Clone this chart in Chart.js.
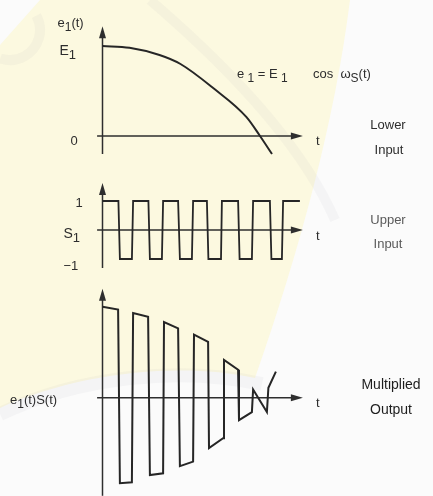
<!DOCTYPE html>
<html>
<head>
<meta charset="utf-8">
<script src="https://cdn.jsdelivr.net/npm/chart.js@4/dist/chart.umd.min.js"></script>
<style>
  html, body { margin: 0; padding: 0; background: #fff; }
  #wrap { position: relative; width: 433px; height: 496px; }
</style>
</head>
<body>
<div id="wrap"><canvas id="chart" width="433" height="496"></canvas></div>
<script>
// time is measured in periods of the switching signal S(t)
const cosT = [0, 0.9, 1.9, 2.6, 3.7, 4.8, 5.25, 5.65];
const cosV = [1.0, 0.98, 0.9, 0.8, 0.53, 0.21, 0, -0.2];

const squareT = [0, 0.53, 0.58, 0.98, 1.02, 1.53, 1.58, 1.98, 2.02, 2.52, 2.58, 2.98, 3.02,
  3.48, 3.53, 3.95, 3.98, 4.52, 4.57, 4.98, 5.02, 5.58, 5.63, 5.98, 6.02, 6.58];
const squareV = [1, 1, -1, -1, 1, 1, -1, -1, 1, 1, -1, -1, 1,
  1, -1, -1, 1, 1, -1, -1, 1, 1, -1, -1, 1, 1];

const prodT = [0, 0.52, 0.58, 0.98, 1.02, 1.52, 1.58, 2.02, 2.05, 2.52, 2.58, 3.02,
  3.05, 3.52, 3.55, 4.02, 4.05, 4.52, 4.55, 4.98, 5.02, 5.48, 5.53, 5.78];
const prodV = [1.01, 0.98, -0.95, -0.94, 0.94, 0.90, -0.86, -0.84, 0.84, 0.77, -0.76, -0.71,
  0.70, 0.62, -0.56, -0.45, 0.42, 0.31, -0.25, -0.16, 0.09, -0.16, 0.11, 0.29];

// axis extents (time axis start/end, vertical axis bottom/top per panel)
const timeAxis = [-0.18, 6.68];
const topAxis = [-0.2, 1.22];
const midAxis = [-1.31, 1.62];
const botAxis = [-1.09, 1.21];

const ink = "#262626";
const FONT = '"Liberation Sans", Arial, sans-serif';

function pts(xs, ys) {
  return xs.map((x, i) => ({ x, y: ys[i] }));
}

function arrow(ctx, x1, y1, x2, y2) {
  const a = Math.atan2(y2 - y1, x2 - x1);
  const c = Math.cos(a), s = Math.sin(a);
  ctx.beginPath();
  ctx.moveTo(x1, y1);
  ctx.lineTo(x2 - 8 * c, y2 - 8 * s);
  ctx.stroke();
  ctx.beginPath();
  ctx.moveTo(x2, y2);
  ctx.lineTo(x2 - 12 * c + 3.5 * s, y2 - 12 * s - 3.5 * c);
  ctx.lineTo(x2 - 12 * c - 3.5 * s, y2 - 12 * s + 3.5 * c);
  ctx.closePath();
  ctx.fill();
}

// text made of runs; a run flagged true is drawn as a subscript
function rich(ctx, x, y, parts, size) {
  let cx = x;
  parts.forEach(([txt, sub]) => {
    ctx.font = (sub ? size - 1 : size) + "px " + FONT;
    ctx.fillText(txt, cx, y + (sub ? 4 : 0));
    cx += ctx.measureText(txt).width;
  });
}

const backdrop = {
  id: "backdrop",
  beforeDraw(chart) {
    const ctx = chart.ctx;
    ctx.save();
    ctx.fillStyle = "#fbfbfb";
    ctx.fillRect(0, 0, chart.width, chart.height);
    // pale crest shape behind the plots
    ctx.fillStyle = "#fcf9e0";
    ctx.beginPath();
    ctx.moveTo(40, 0);
    ctx.lineTo(350, 0);
    ctx.bezierCurveTo(335, 120, 300, 250, 255, 378);
    ctx.bezierCurveTo(180, 362, 80, 372, 0, 408);
    ctx.lineTo(0, 45);
    ctx.closePath();
    ctx.fill();
    ctx.strokeStyle = "rgba(150,150,165,0.07)";
    ctx.lineWidth = 14;
    ctx.beginPath();
    ctx.moveTo(0, 414);
    ctx.bezierCurveTo(80, 376, 180, 366, 262, 384);
    ctx.stroke();
    ctx.lineWidth = 10;
    ctx.beginPath();
    ctx.moveTo(150, 0);
    ctx.bezierCurveTo(220, 60, 300, 140, 335, 220);
    ctx.stroke();
    ctx.beginPath();
    ctx.arc(10, 30, 30, -0.5, 1.9);
    ctx.stroke();
    ctx.restore();
  },
  beforeDatasetsDraw(chart) {
    const { ctx, scales } = chart;
    const x = scales.x;
    ctx.save();
    ctx.strokeStyle = "#2e2e2e";
    ctx.fillStyle = "#2e2e2e";
    ctx.lineWidth = 1.5;
    [["yTop", topAxis], ["yMid", midAxis], ["yBot", botAxis]].forEach(([id, ext]) => {
      const y = scales[id];
      const x0 = x.getPixelForValue(0);
      arrow(ctx, x0, y.getPixelForValue(ext[0]), x0, y.getPixelForValue(ext[1]));
      arrow(ctx, x.getPixelForValue(timeAxis[0]), y.getPixelForValue(0),
        x.getPixelForValue(timeAxis[1]), y.getPixelForValue(0));
    });
    ctx.restore();
  },
  afterDraw(chart) {
    const { ctx, scales } = chart;
    const x = scales.x, yT = scales.yTop, yM = scales.yMid, yB = scales.yBot;
    const ax = x.getPixelForValue(0);
    const tx = x.getPixelForValue(timeAxis[1]) + 13;
    ctx.save();
    ctx.fillStyle = "#2d2d2d";
    ctx.textBaseline = "alphabetic";
    ctx.textAlign = "left";

    // top panel
    rich(ctx, ax - 45, yT.getPixelForValue(topAxis[1]) + 1, [["e", false], ["1", true], ["(t)", false]], 13);
    rich(ctx, ax - 43, yT.getPixelForValue(1) + 9, [["E", false], ["1", true]], 14);
    ctx.font = "13px " + FONT;
    ctx.fillText("0", ax - 32, yT.getPixelForValue(0) + 9);
    ctx.fillText("t", tx, yT.getPixelForValue(0) + 9);
    rich(ctx, 237, 78, [["e", false], [" 1", true], [" = ", false], ["E", false], [" 1", true],
      ["       cos  ", false], ["\u03c9", false], ["S", true], ["(t)", false]], 13);

    // middle panel
    ctx.font = "13px " + FONT;
    ctx.fillText("1", ax - 27, yM.getPixelForValue(1) + 6);
    rich(ctx, ax - 39, yM.getPixelForValue(0) + 8, [["S", false], ["1", true]], 14);
    ctx.fillText("\u22121", ax - 39, yM.getPixelForValue(-1) + 11);
    ctx.fillText("t", tx, yM.getPixelForValue(0) + 10);

    // bottom panel
    rich(ctx, 10, yB.getPixelForValue(0) + 6, [["e", false], ["1", true], ["(t)S(t)", false]], 13);
    ctx.font = "13px " + FONT;
    ctx.fillText("t", tx, yB.getPixelForValue(0) + 9);

    // panel captions
    ctx.textAlign = "center";
    ctx.fillStyle = "#2d2d2d";
    ctx.font = "13px " + FONT;
    ctx.fillText("Lower", 388, 129);
    ctx.fillText("Input", 389, 154);
    ctx.fillStyle = "#5a5a5a";
    ctx.fillText("Upper", 388, 224);
    ctx.fillText("Input", 388, 248);
    ctx.fillStyle = "#1e1e1e";
    ctx.font = "14px " + FONT;
    ctx.fillText("Multiplied", 391, 389);
    ctx.fillText("Output", 391, 414);
    ctx.restore();
  },
};

const wave = {
  borderColor: ink,
  borderWidth: 2,
  pointRadius: 0,
  fill: false,
  showLine: true,
  borderJoinStyle: "miter",
};

new Chart(document.getElementById("chart"), {
  type: "line",
  data: {
    datasets: [
      { ...wave, label: "e1(t)", data: pts(cosT, cosV), yAxisID: "yTop", cubicInterpolationMode: "monotone" },
      { ...wave, label: "S(t)", data: pts(squareT, squareV), yAxisID: "yMid", tension: 0, borderWidth: 1.8 },
      { ...wave, label: "e1(t)S(t)", data: pts(prodT, prodV), yAxisID: "yBot", tension: 0 },
    ],
  },
  options: {
    responsive: false,
    animation: false,
    layout: { padding: 0 },
    plugins: { legend: { display: false }, tooltip: { enabled: false } },
    scales: {
      x: { type: "linear", display: false, min: -3.4167, max: 11.0167 },
      yTop: { type: "linear", display: false, min: -4.0, max: 1.5111 },
      yMid: { type: "linear", display: false, min: -9.1724, max: 7.931 },
      yBot: { type: "linear", display: false, min: -1.0922, max: 4.4189 },
    },
  },
  plugins: [backdrop],
});
</script>
</body>
</html>
